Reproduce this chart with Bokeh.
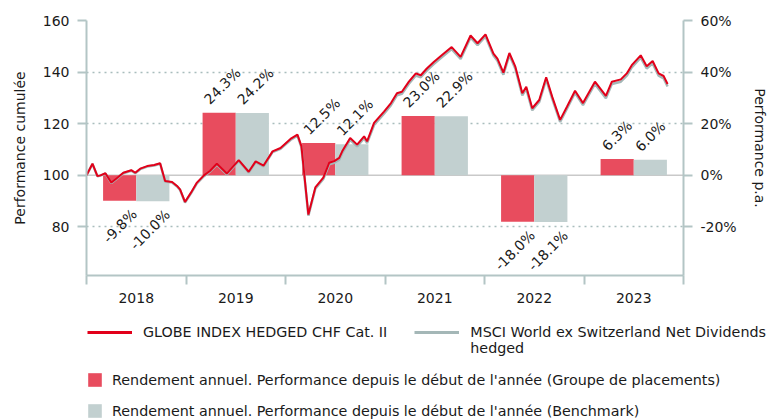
import math
from bokeh.plotting import figure
from bokeh.layouts import column
from bokeh.models import (Range1d, LinearAxis, FixedTicker, PrintfTickFormatter,
                          Span, Legend, LegendItem)
from bokeh.core.properties import value
from bokeh.embed import file_html
from bokeh.resources import INLINE

# ---------------- data ----------------
years = [2018, 2019, 2020, 2021, 2022, 2023]
fund_pa = [-9.8, 24.3, 12.5, 23.0, -18.0, 6.3]
bench_pa = [-10.0, 24.2, 12.1, 22.9, -18.1, 6.0]

t = [2018.00, 2018.06, 2018.11, 2018.14, 2018.19, 2018.25, 2018.31, 2018.37, 2018.45, 2018.49,
     2018.54, 2018.61, 2018.68, 2018.74, 2018.79, 2018.86, 2018.91, 2018.94, 2018.99,
     2019.05, 2019.11, 2019.18, 2019.24, 2019.31, 2019.41, 2019.53, 2019.63, 2019.70, 2019.78,
     2019.87, 2019.95,
     2020.05, 2020.12, 2020.16, 2020.23, 2020.30, 2020.38, 2020.44, 2020.49, 2020.54, 2020.57,
     2020.65, 2020.72, 2020.79, 2020.82, 2020.89, 2020.99,
     2021.06, 2021.12, 2021.17, 2021.24, 2021.31, 2021.36, 2021.42, 2021.49, 2021.57, 2021.67,
     2021.76, 2021.86, 2021.93,
     2022.01, 2022.09, 2022.13, 2022.19, 2022.25, 2022.31, 2022.38, 2022.42, 2022.48, 2022.55,
     2022.62, 2022.68, 2022.76, 2022.83, 2022.91, 2022.99,
     2023.11, 2023.22, 2023.28, 2023.37, 2023.43, 2023.48, 2023.57, 2023.63, 2023.69, 2023.75,
     2023.80, 2023.84]

fund_idx = [100.0, 104.5, 99.7, 100.0, 100.8, 97.2, 99.1, 101.0, 102.0, 101.0,
            102.6, 103.6, 104.0, 104.7, 97.8, 97.4, 95.9, 94.6, 89.7,
            93.3, 97.2, 100.0, 101.7, 104.5, 100.7, 105.9, 101.4, 105.4, 103.8, 109.3, 110.6,
            114.1, 115.8, 111.3, 84.8, 95.3, 99.1, 104.9, 105.5, 106.8, 109.3, 114.5, 111.9,
            115.1, 113.2, 120.3, 124.7,
            128.0, 131.8, 132.4, 136.3, 139.5, 138.8, 141.4, 143.9, 146.5, 149.7, 145.9, 154.2,
            151.2,
            154.6, 147.2, 145.2, 139.8, 147.4, 142.1, 131.8, 134.3, 126.0, 129.2, 138.0, 130.5,
            121.5, 126.7, 132.8, 128.0,
            136.3, 130.8, 136.3, 137.2, 139.5, 142.7, 146.5, 142.3, 144.3, 139.5, 138.5, 135.4]

bench_idx = [100.0, 104.4, 99.6, 99.9, 100.7, 97.0, 98.9, 100.8, 101.8, 100.8,
             102.4, 103.4, 103.8, 104.5, 97.6, 97.2, 95.7, 94.4, 89.5,
             93.0, 96.9, 99.7, 101.4, 104.2, 100.4, 105.6, 101.1, 105.1, 103.5, 109.0, 110.3,
             113.7, 115.4, 110.9, 84.4, 94.8, 98.6, 104.3, 104.9, 106.1, 108.6, 113.8, 111.2,
             114.4, 112.5, 119.5, 123.9,
             127.2, 131.0, 131.6, 135.5, 138.7, 138.0, 140.6, 143.1, 145.7, 148.9, 145.1, 153.4,
             150.4,
             153.8, 146.4, 144.4, 139.0, 146.6, 141.3, 131.0, 133.5, 125.2, 128.4, 137.2, 129.7,
             120.7, 125.9, 132.0, 127.2,
             135.4, 129.9, 135.4, 136.3, 138.6, 141.8, 145.6, 141.4, 143.4, 138.6, 137.6, 134.4]

left_ticks = [80, 100, 120, 140, 160]
right_ticks = [-20, 0, 20, 40, 60]

fund_name = "GLOBE INDEX HEDGED CHF Cat. II"
bench_name = "MSCI World ex Switzerland Net Dividends\nhedged"
bar_fund_name = "Rendement annuel. Performance depuis le début de l'année (Groupe de placements)"
bar_bench_name = "Rendement annuel. Performance depuis le début de l'année (Benchmark)"

# ---------------- style ----------------
FONT = "DejaVu Sans"
AX = "#b3c5c5"
GRID = "#a9bdbd"
RED_LINE = "#e2001a"
RED_BAR = "#e84c5e"
GREY_BAR = "#c2d0d0"
GREY_LINE = "#a4b7b7"
TXT = "#1a1a1a"

p = figure(width=778, height=305, output_backend="svg", toolbar_location=None,
           x_range=Range1d(2018, 2024), y_range=Range1d(61.2, 160),
           min_border_left=86, min_border_right=95, min_border_top=20, min_border_bottom=28)
p.extra_y_ranges = {"pct": Range1d(-38.8, 60)}
p.outline_line_color = None
p.background_fill_color = "white"
p.border_fill_color = "white"

# grid
p.xgrid.visible = False
p.ygrid.ticker = FixedTicker(ticks=[80, 120, 140, 160])
p.ygrid.grid_line_color = GRID
p.ygrid.grid_line_dash = "2 4"
p.ygrid.grid_line_width = 1.5
p.add_layout(Span(location=100, dimension="width", line_color="#c9c9c9",
                  line_width=1.5, level="underlay"))

# bars
bw = 1 / 3
red_x = [y + 0.5 - bw / 2 for y in years]
grey_x = [y + 0.5 + bw / 2 for y in years]
p.vbar(x=red_x, top=fund_pa, bottom=0, width=bw, fill_color=RED_BAR,
       line_color=None, y_range_name="pct")
p.vbar(x=grey_x, top=bench_pa, bottom=0, width=bw, fill_color=GREY_BAR,
       line_color=None, y_range_name="pct")

# lines
p.line(t, bench_idx, line_color=GREY_LINE, line_width=2.5)
p.line(t, fund_idx, line_color=RED_LINE, line_width=2)

# bar labels
def add_labels(xc, vals):
    pos = [(x - bw / 2, v, f"{v:.1f}%") for x, v in zip(xc, vals) if v >= 0]
    neg = [(x + bw / 2, v, f"{v:.1f}%") for x, v in zip(xc, vals) if v < 0]
    if pos:
        p.text(x=[a[0] for a in pos], y=[a[1] for a in pos], text=[a[2] for a in pos],
               angle=math.pi / 4, text_align="left", text_baseline="middle",
               x_offset=4, y_offset=-11, text_font=value(FONT), text_font_size="14px",
               text_color=TXT, y_range_name="pct")
    if neg:
        p.text(x=[a[0] for a in neg], y=[a[1] for a in neg], text=[a[2] for a in neg],
               angle=math.pi / 4, text_align="right", text_baseline="middle",
               x_offset=-2, y_offset=11, text_font=value(FONT), text_font_size="14px",
               text_color=TXT, y_range_name="pct")

add_labels(red_x, fund_pa)
add_labels(grey_x, bench_pa)

# axes
def style_axis(ax):
    ax.axis_line_color = AX
    ax.axis_line_width = 2
    ax.major_tick_line_color = AX
    ax.major_tick_line_width = 2
    ax.major_tick_out = 9
    ax.major_tick_in = 0
    ax.minor_tick_line_color = None
    ax.major_label_text_font = FONT
    ax.major_label_text_font_size = "14px"
    ax.major_label_text_color = TXT
    ax.axis_label_text_font = FONT
    ax.axis_label_text_font_size = "14px"
    ax.axis_label_text_font_style = "normal"
    ax.axis_label_text_color = TXT

ly = p.yaxis[0]
style_axis(ly)
ly.ticker = FixedTicker(ticks=left_ticks)
ly.axis_label = "Performance cumulée"
ly.major_label_standoff = 8
ly.axis_label_standoff = 12

ry = LinearAxis(y_range_name="pct", ticker=FixedTicker(ticks=right_ticks),
                formatter=PrintfTickFormatter(format="%d%%"), axis_label="Performance p.a.")
style_axis(ry)
ry.major_label_standoff = 8
ry.axis_label_standoff = 12
p.add_layout(ry, "right")

bx = p.xaxis[0]
style_axis(bx)
bx.ticker = FixedTicker(ticks=[y + 0.5 for y in years],
                        minor_ticks=list(range(years[0], years[-1] + 2)))
bx.major_label_overrides = {y + 0.5: str(y) for y in years}
bx.major_tick_out = 0
bx.major_tick_line_color = None
bx.minor_tick_line_color = AX
bx.minor_tick_line_width = 2
bx.minor_tick_out = 9
bx.minor_tick_in = 0
bx.major_label_standoff = 8

# ---------------- legend panel (separate strip below the chart) ----------------
lf = figure(width=778, height=114, output_backend="svg", toolbar_location=None,
            x_range=Range1d(0, 1), y_range=Range1d(0, 1),
            x_axis_type=None, y_axis_type=None,
            min_border_left=0, min_border_right=0, min_border_top=0, min_border_bottom=0)
lf.outline_line_color = None
lf.xgrid.visible = False
lf.ygrid.visible = False
for fig in (p, lf):
    if "frame_align" in fig.properties():
        fig.frame_align = False

# same series as above; they fall outside this strip's ranges, only their legend swatches show
lg_fund = lf.line(t, fund_idx, line_color=RED_LINE, line_width=3)
lg_bench = lf.line(t, bench_idx, line_color=GREY_LINE, line_width=3)
lg_bar_f = lf.vbar(x=red_x, top=fund_pa, width=bw, fill_color=RED_BAR, line_color=None)
lg_bar_b = lf.vbar(x=grey_x, top=bench_pa, width=bw, fill_color=GREY_BAR, line_color=None)


def style_legend(lg):
    lg.padding = 0
    lg.margin = 0
    lg.border_line_color = None
    lg.background_fill_alpha = 0
    lg.label_text_font = FONT
    lg.label_text_font_size = "14.3px"
    lg.label_text_color = TXT


# a blank first line keeps each swatch level with the first text line
lg1 = Legend(items=[LegendItem(label=" \n" + fund_name + "\n ", renderers=[lg_fund]),
                    LegendItem(label=" \n" + bench_name, renderers=[lg_bench])],
             orientation="horizontal", location=(87, 63), glyph_width=45,
             label_standoff=11, spacing=27)
style_legend(lg1)
lf.add_layout(lg1, "center")

lg2 = Legend(items=[LegendItem(label=bar_fund_name, renderers=[lg_bar_f]),
                    LegendItem(label=bar_bench_name, renderers=[lg_bar_b])],
             orientation="vertical", location=(86, 0), glyph_width=17, glyph_height=17,
             label_standoff=9, spacing=14, label_height=17)
style_legend(lg2)
lf.add_layout(lg2, "center")

open("out.html", "w").write(file_html(column(p, lf), INLINE))
